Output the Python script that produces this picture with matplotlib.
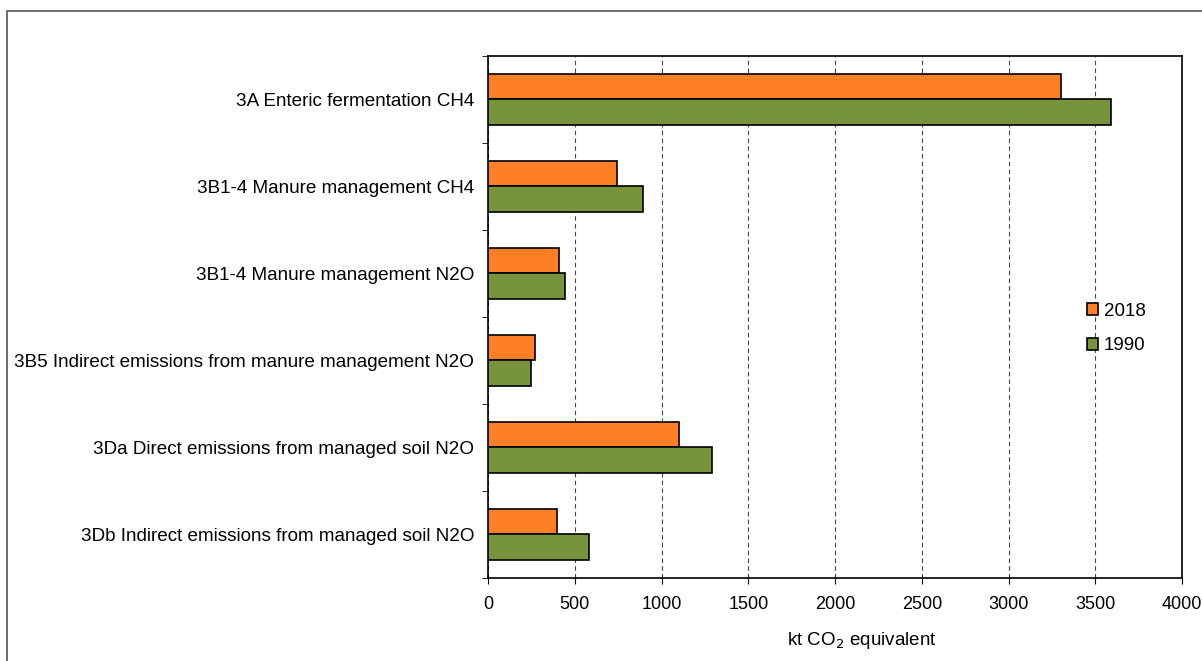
import numpy as np
import matplotlib.pyplot as plt
from matplotlib.patches import Rectangle

plt.rcParams['font.family'] = ['Liberation Sans', 'DejaVu Sans']

# dados (kt CO2 eq)
categorias = [
    "3A Enteric fermentation CH4",
    "3B1-4 Manure management CH4",
    "3B1-4 Manure management N2O",
    "3B5 Indirect emissions from manure management N2O",
    "3Da Direct emissions from managed soil N2O",
    "3Db Indirect emissions from managed soil N2O",
]
valores_2018 = [3300, 743, 409, 271, 1100, 398]
valores_1990 = [3590, 893, 444, 248, 1290, 582]

cor_2018 = '#FF7F27'
cor_1990 = '#77933C'
altura = 0.29

fig = plt.figure(figsize=(12.02, 6.61), dpi=100)
ax = fig.add_axes([0.406, 0.1256, 0.5774, 0.7897])

# moldura externa
fig.patches.append(Rectangle((7 / 1202, -0.1), 1.2, 1 - 11 / 661 + 0.1,
                             transform=fig.transFigure, fill=False,
                             edgecolor='#555555', linewidth=1.2))

y = np.arange(len(categorias))
ax.barh(y - altura / 2, valores_2018, height=altura, color=cor_2018,
        edgecolor='black', linewidth=1.2, label='2018', zorder=3)
ax.barh(y + altura / 2, valores_1990, height=altura, color=cor_1990,
        edgecolor='black', linewidth=1.2, label='1990', zorder=3)

ax.set_ylim(len(categorias) - 0.5, -0.5)
ax.set_xlim(0, 4000)
ax.set_xticks(np.arange(0, 4001, 500))
ax.set_yticks(y)
ax.set_yticklabels(categorias, fontsize=13.6)
ax.set_yticks(np.arange(-0.5, len(categorias), 1), minor=True)
ax.tick_params(axis='y', which='major', length=0, pad=10)
ax.tick_params(axis='y', which='minor', length=4, direction='out')
ax.tick_params(axis='x', labelsize=13, length=4, pad=9)

ax.grid(axis='x', linestyle=(0, (4, 3)), color='#444444', linewidth=0.8, zorder=0)
for s in ax.spines.values():
    s.set_linewidth(1.2)

ax.set_xlabel('kt CO$_2$ equivalent', fontsize=13.5, labelpad=12)
ax.xaxis.set_label_coords(0.539, -0.1)

ax.legend(loc='center left', bbox_to_anchor=(0.839, 0.478), frameon=False,
          fontsize=13.5, handlelength=0.6, handleheight=0.6, labelspacing=0.95,
          handletextpad=0.3)

plt.savefig('out.png')
plt.close()
